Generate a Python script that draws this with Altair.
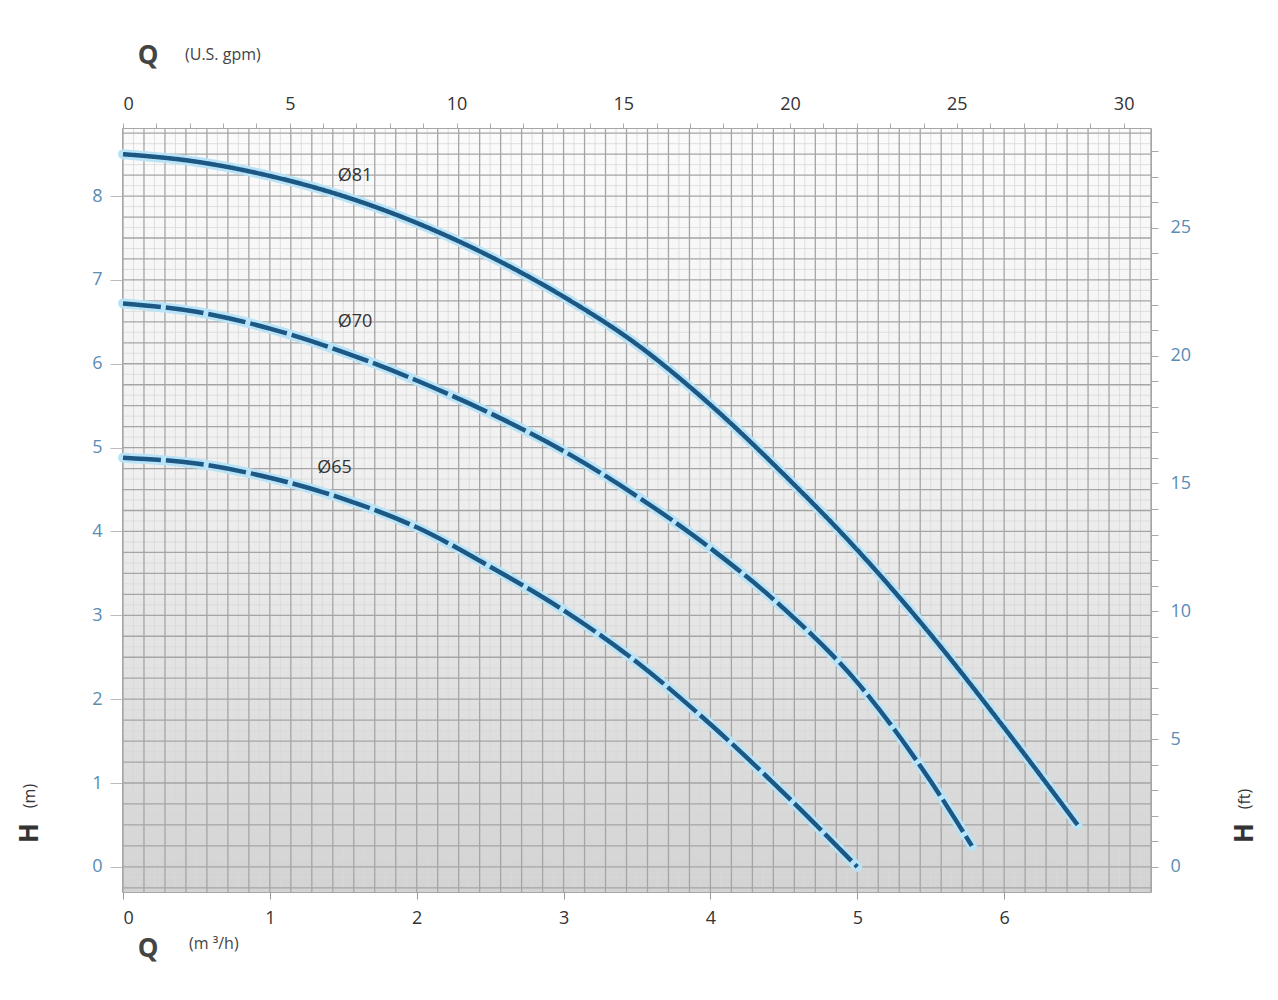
import altair as alt
import numpy as np
import pandas as pd

# ---- data ----
SERIES = ["Ø81", "Ø70", "Ø65"]
Q_81 = [0, 0.5, 1, 1.5, 2, 2.5, 3, 3.5, 4, 4.5, 5, 5.5, 6, 6.5]
H_81 = [8.5, 8.41, 8.24, 8.0, 7.68, 7.28, 6.8, 6.23, 5.51, 4.68, 3.78, 2.77, 1.66, 0.5]
Q_70 = [0, 0.5, 1, 1.5, 2, 2.5, 3, 3.5, 4, 4.5, 5, 5.5, 5.78]
H_70 = [6.72, 6.62, 6.42, 6.14, 5.8, 5.41, 4.96, 4.42, 3.8, 3.08, 2.2, 1.02, 0.25]
Q_65 = [0, 0.5, 1, 1.5, 2, 2.5, 3, 3.5, 4, 4.5, 5]
H_65 = [4.88, 4.81, 4.64, 4.39, 4.05, 3.58, 3.06, 2.44, 1.7, 0.88, 0.0]
LABEL_Q = [1.58, 1.58, 1.44]
LABEL_H = [8.24, 6.50, 4.76]

Q_TICKS = [0, 1, 2, 3, 4, 5, 6]
H_TICKS = [0, 1, 2, 3, 4, 5, 6, 7, 8]
GPM_TICKS = list(range(0, 31))
FT_TICKS = list(range(0, 29))

# ---- layout / conversion ----
W, H = 1028, 763
Q_DOM = [0, 7]
H_DOM = [-0.3, 8.8]
GPM_PER_M3H = 4.4029
FT_PER_M = 3.2808
GPM_DOM = [Q_DOM[0] * GPM_PER_M3H, Q_DOM[1] * GPM_PER_M3H]
FT_DOM = [H_DOM[0] * FT_PER_M, H_DOM[1] * FT_PER_M]
FONT = "Open Sans"
BLUE_LBL = "#5a8cb4"
DARK = "#333333"

curves = pd.concat([
    pd.DataFrame({"Q": Q_81, "H": H_81, "series": SERIES[0]}),
    pd.DataFrame({"Q": Q_70, "H": H_70, "series": SERIES[1]}),
    pd.DataFrame({"Q": Q_65, "H": H_65, "series": SERIES[2]}),
])
labels = pd.DataFrame({"Q": LABEL_Q, "H": LABEL_H, "series": SERIES})

xs = alt.Scale(domain=Q_DOM, nice=False, zero=False)
ys = alt.Scale(domain=H_DOM, nice=False, zero=False)
X_AXIS = alt.Axis(orient="bottom", values=Q_TICKS, grid=False, domain=False,
                  tickColor="#999999", tickSize=7, labelPadding=10,
                  labelFontSize=18, labelColor=DARK, labelFont=FONT, title=None)
Y_AXIS = alt.Axis(orient="left", values=H_TICKS, grid=False, domain=False,
                  tickColor="#bbbbbb", tickSize=13, labelPadding=8,
                  labelFontSize=18, labelColor=BLUE_LBL, labelFont=FONT, title=None)


def X(field):
    return alt.X(field, scale=xs, axis=X_AXIS)


def Y(field):
    return alt.Y(field, scale=ys, axis=Y_AXIS)


one = pd.DataFrame({"a": [0]})

# background gradient
bg = alt.Chart(one).mark_rect(
    color=alt.LinearGradient(
        gradient="linear",
        stops=[alt.GradientStop(color="#fbfbfb", offset=0),
               alt.GradientStop(color="#f0f0f0", offset=0.45),
               alt.GradientStop(color="#d3d3d3", offset=1)],
        x1=0, x2=0, y1=0, y2=1)
).encode(x=alt.value(0), x2=alt.value(W), y=alt.value(0), y2=alt.value(H))

# grid (styling only)
xmaj = pd.DataFrame({"Q": np.arange(0, 7.0001, 1 / 7)})
xmin = pd.DataFrame({"Q": np.arange(1 / 14, 7, 1 / 7)})
ymaj = pd.DataFrame({"H": np.arange(-0.25, 8.8, 0.25)})
ymin = pd.DataFrame({"H": np.arange(-0.125, 8.8, 0.25)})

gx_min = alt.Chart(xmin).mark_rule(color="#d8d8d8", strokeWidth=0.8).encode(x=X("Q:Q"))
gy_min = alt.Chart(ymin).mark_rule(color="#d8d8d8", strokeWidth=0.8).encode(y=Y("H:Q"))
gx_maj = alt.Chart(xmaj).mark_rule(color="#a5a5a5", strokeWidth=1.3).encode(x=X("Q:Q"))
gy_maj = alt.Chart(ymaj).mark_rule(color="#a5a5a5", strokeWidth=1.3).encode(y=Y("H:Q"))

base = alt.Chart(curves)
halo = base.mark_line(color="#b9e3f6", strokeWidth=10, interpolate="monotone",
                      strokeCap="round").encode(
    x=X("Q:Q"), y=Y("H:Q"), detail="series:N")
core = base.mark_line(color="#1d5784", strokeWidth=4.5, interpolate="monotone").encode(
    x=X("Q:Q"), y=Y("H:Q"),
    strokeDash=alt.StrokeDash("series:N",
                              scale=alt.Scale(domain=SERIES, range=[[1, 0], [38, 5], [38, 5]]),
                              legend=None),
    detail="series:N")

lbl = alt.Chart(labels).mark_text(fontSize=18, color=DARK, font=FONT).encode(
    x=X("Q:Q"), y=Y("H:Q"), text="series:N")

main = alt.layer(bg, gx_min, gy_min, gx_maj, gy_maj, halo, core, lbl)

# secondary axes: U.S. gpm on top, ft on right
sec_df = pd.DataFrame({"gpm": [GPM_DOM[0], GPM_DOM[1]], "ft": [FT_DOM[0], FT_DOM[1]]})
sec = alt.Chart(sec_df).mark_point(opacity=0).encode(
    x=alt.X("gpm:Q", scale=alt.Scale(domain=GPM_DOM, nice=False, zero=False),
            axis=alt.Axis(orient="top", values=GPM_TICKS, grid=False, domain=False,
                          labelExpr="datum.value % 5 == 0 ? datum.label : ''",
                          tickColor="#aaaaaa", tickSize=6, labelPadding=10,
                          labelFontSize=18, labelColor=DARK, labelFont=FONT, title=None)),
    y=alt.Y("ft:Q", scale=alt.Scale(domain=FT_DOM, nice=False, zero=False),
            axis=alt.Axis(orient="right", values=FT_TICKS, grid=False, domain=False,
                          labelExpr="datum.value % 5 == 0 ? datum.label : ''",
                          tickColor="#aaaaaa", tickSize=7, labelPadding=12,
                          labelFontSize=18, labelColor=BLUE_LBL, labelFont=FONT, title=None)),
)


def txt(t, x, y, size, angle=0, align="left", weight="normal", color=DARK):
    kw = dict(text=t, fontSize=size, font=FONT, color=color, align=align,
              baseline="middle", fontWeight=weight)
    if angle:
        kw["angle"] = angle
    return alt.Chart(one).mark_text(**kw).encode(x=alt.value(x), y=alt.value(y))


titles = alt.layer(
    txt("Q", 25, -73, 26, align="center", weight="bold", color="#444444"),
    txt("(U.S. gpm)", 62, -74, 16, color="#444444"),
    txt("Q", 25, 820, 26, align="center", weight="bold", color="#444444"),
    txt("(m ³/h)", 66, 815, 16, color="#444444"),
    txt("H", -93, 704, 26, angle=270, align="center", weight="bold", color="#333333"),
    txt("(m)", -93, 667, 16, angle=270, align="center", color="#333333"),
    txt("H", 1122, 704, 26, angle=270, align="center", weight="bold", color="#333333"),
    txt("(ft)", 1122, 670, 16, angle=270, align="center", color="#333333"),
)

chart = alt.layer(main, sec, titles).resolve_scale(
    x="independent", y="independent"
).properties(
    width=W, height=H,
    autosize=alt.AutoSizeParams(type="none"),
    padding={"left": 115, "top": 121, "right": 111, "bottom": 90},
    background="white",
).configure_view(stroke="#8a8a8a", strokeWidth=1.5)

chart.save("out.html", embed_options={"renderer": "svg", "actions": False})
